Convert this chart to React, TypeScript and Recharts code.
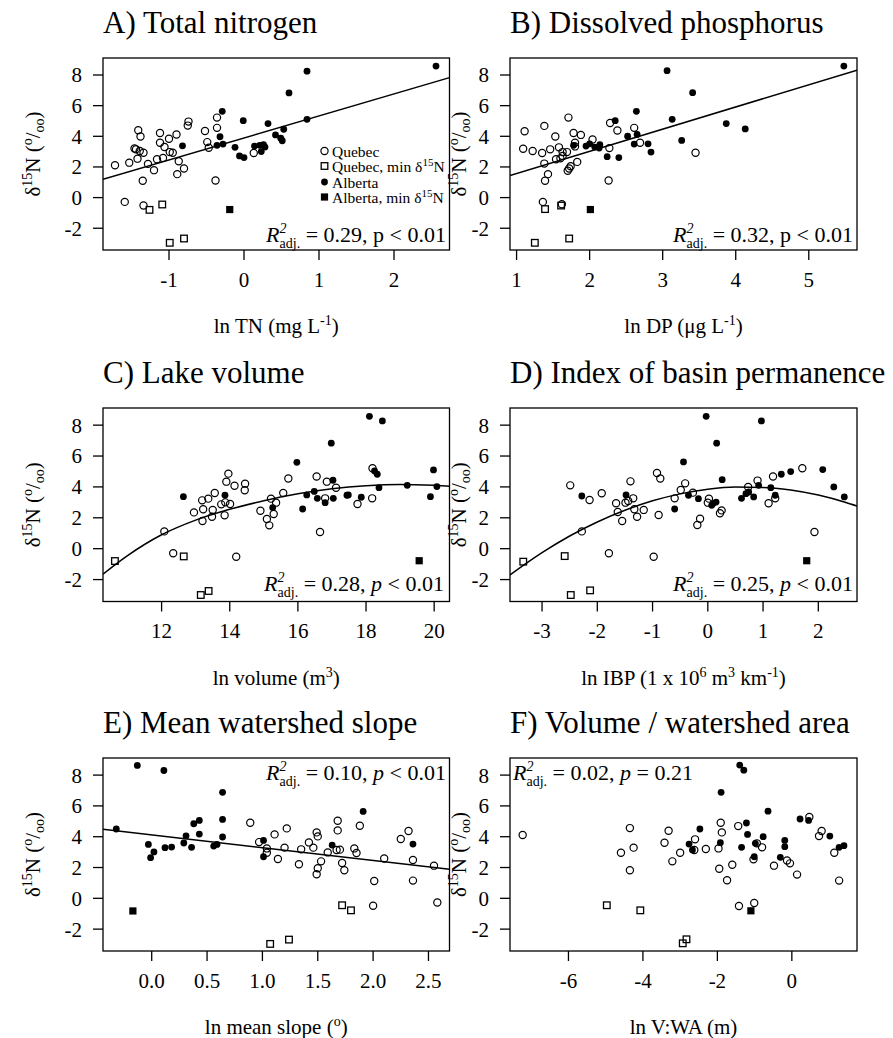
import React from 'react';
import { ScatterChart, Scatter, XAxis, YAxis } from 'recharts';

type Pt = [number, number];

const serif = '"Liberation Serif", "Times New Roman", serif';

// shared y axis (delta 15N, per mil)
const yDomain = [-3.42, 9.11];
const yTicks = [-2, 0, 2, 4, 6, 8];

// A) total nitrogen, x = ln TN (mg/L)
const tnTicks = [-1, 0, 1, 2];
const tnQuebec: Pt[] = [
  [-1.72, 2.11], [-1.53, 2.28], [-1.59, -0.28], [-1.41, 4.4], [-1.38, 3.99], [-1.46, 3.21], [-1.44, 3.15],
  [-1.42, 2.54], [-1.39, 3.04], [-1.34, 2.93], [-1.35, 1.1], [-1.28, 2.2], [-1.2, 1.79], [-1.34, -0.52],
  [-1.16, 2.5], [-1.12, 4.22], [-1.12, 3.58], [-1.08, 2.59], [-1.06, 3.3], [-1.0, 3.84], [-0.99, 2.97],
  [-0.95, 2.93], [-0.9, 4.12], [-0.87, 2.37], [-0.89, 1.53], [-0.8, 1.9], [-0.74, 4.96], [-0.75, 4.7],
  [-0.52, 4.35], [-0.49, 3.62], [-0.47, 3.25], [-0.36, 5.22], [-0.36, 4.55], [-0.38, 1.12], [0.13, 2.91],
];
const tnQuebecMin: Pt[] = [[-1.26, -0.8], [-1.09, -0.45], [-0.99, -2.95], [-0.8, -2.67]];
const tnAlberta: Pt[] = [
  [-0.82, 3.38], [-0.29, 5.63], [-0.32, 3.97], [-0.36, 3.41], [-0.28, 3.49], [-0.12, 3.28], [-0.06, 2.72],
  [0.0, 2.61], [-0.01, 5.02], [0.14, 3.36], [0.21, 3.41], [0.26, 3.45], [0.23, 3.0], [0.28, 3.3],
  [0.32, 4.83], [0.42, 4.09], [0.49, 3.88], [0.53, 4.46], [0.51, 3.71], [0.6, 6.83], [0.84, 8.25],
  [0.84, 5.11], [2.56, 8.58],
];
const tnAlbertaMin: Pt[] = [[-0.19, -0.78]];
const tnFit: Pt[] = [[-1.88, 1.19], [2.74, 7.83]];

// B) dissolved phosphorus, x = ln DP (ug/L)
const dpTicks = [1, 2, 3, 4, 5];
const dpQuebec: Pt[] = [
  [1.11, 4.33], [1.09, 3.19], [1.22, 3.04], [1.35, 2.91], [1.38, 4.68], [1.53, 3.99], [1.46, 3.15],
  [1.58, 3.28], [1.63, 2.97], [1.69, 2.97], [1.71, 5.22], [1.78, 4.22], [1.88, 4.09], [1.8, 3.58],
  [1.8, 3.34], [1.54, 2.5], [1.6, 2.56], [1.63, 2.72], [1.38, 2.22], [1.43, 1.53], [1.39, 1.1],
  [1.7, 1.75], [1.72, 1.9], [1.74, 2.05], [1.83, 2.33], [2.04, 3.79], [2.28, 4.87], [2.38, 4.38],
  [2.27, 3.23], [2.26, 1.12], [2.61, 4.55], [2.69, 3.58], [3.45, 2.93], [1.36, -0.28], [1.62, -0.43],
];
const dpQuebecMin: Pt[] = [[1.39, -0.75], [1.61, -0.52], [1.25, -2.95], [1.72, -2.67]];
const dpAlberta: Pt[] = [
  [1.78, 3.41], [1.95, 3.36], [2.0, 3.51], [2.07, 3.3], [2.14, 3.45], [2.13, 3.23], [2.35, 5.02],
  [2.24, 2.67], [2.4, 2.61], [2.52, 4.01], [2.65, 4.12], [2.64, 5.63], [2.61, 3.49], [2.8, 3.51],
  [2.84, 2.97], [3.06, 8.28], [3.13, 5.11], [3.26, 3.73], [3.41, 6.85], [3.87, 4.83], [4.13, 4.48],
  [5.48, 8.58],
];
const dpAlbertaMin: Pt[] = [[2.01, -0.78]];
const dpFit: Pt[] = [[0.91, 1.44], [5.66, 8.32]];

// C) lake volume, x = ln volume (m3)
const volTicks = [12, 14, 16, 18, 20];
const volQuebec: Pt[] = [
  [12.08, 1.12], [12.34, -0.3], [12.95, 2.35], [13.2, 1.79], [13.22, 2.55], [13.19, 3.13], [13.37, 3.24],
  [13.48, 2.07], [13.5, 2.51], [13.56, 3.61], [13.75, 2.87], [13.85, 2.16], [13.87, 3.0], [14.01, 2.89],
  [13.9, 4.34], [13.96, 4.86], [14.14, 4.08], [14.45, 4.21], [14.44, 3.78], [14.19, -0.52], [14.9, 2.46],
  [15.09, 1.92], [15.16, 1.51], [15.21, 3.24], [15.29, 2.25], [15.36, 2.98], [15.57, 3.61], [15.72, 4.54],
  [16.55, 4.67], [16.85, 4.34], [17.12, 3.95], [16.8, 3.26], [16.65, 1.08], [17.75, 2.89], [18.19, 5.21],
  [18.18, 3.26],
];
const volQuebecMin: Pt[] = [[10.63, -0.8], [12.65, -0.5], [13.15, -3.0], [13.38, -2.74]];
const volAlberta: Pt[] = [
  [12.64, 3.37], [13.86, 3.46], [15.26, 2.66], [15.97, 5.59], [16.14, 2.57], [16.26, 3.48], [16.48, 3.71],
  [16.57, 3.26], [16.8, 2.98], [17.03, 4.43], [17.04, 3.26], [16.98, 6.83], [17.44, 3.46], [17.48, 3.48],
  [17.86, 3.33], [18.1, 8.57], [18.48, 8.27], [18.25, 5.03], [18.33, 4.82], [18.38, 3.95], [19.21, 4.1],
  [19.98, 5.1], [19.89, 3.37], [20.08, 4.02],
];
const volAlbertaMin: Pt[] = [[19.56, -0.78]];
const volFit: Pt[] = [
  [10.28, -1.65], [11, -0.45], [12, 0.9], [13, 1.85], [14, 2.55], [15, 3.1], [16, 3.55],
  [17, 3.88], [18, 4.08], [19, 4.16], [20, 4.1], [20.45, 4.05],
];

// D) index of basin permanence, x = ln IBP
const ibpTicks = [-3, -2, -1, 0, 1, 2];
const ibpQuebec: Pt[] = [
  [-2.49, 4.1], [-2.14, 3.15], [-1.92, 3.59], [-2.28, 1.12], [-1.79, -0.3], [-1.66, 2.94], [-1.63, 2.38],
  [-1.55, 1.79], [-1.49, 2.98], [-1.44, 3.09], [-1.4, 4.36], [-1.35, 3.26], [-1.33, 2.55], [-1.28, 2.07],
  [-1.16, 2.51], [-0.98, -0.52], [-0.92, 4.9], [-0.86, 4.54], [-0.89, 2.18], [-0.6, 3.26], [-0.49, 3.8],
  [-0.41, 4.23], [-0.27, 3.63], [-0.19, 1.53], [-0.14, 1.94], [0.02, 3.24], [0.0, 2.98], [0.22, 2.29],
  [0.25, 2.48], [0.73, 4.0], [0.9, 4.41], [1.1, 2.94], [1.18, 4.67], [1.22, 3.26], [1.71, 5.21], [1.93, 1.08],
];
const ibpQuebecMin: Pt[] = [[-3.34, -0.84], [-2.59, -0.48], [-2.48, -3.0], [-2.13, -2.7]];
const ibpAlberta: Pt[] = [
  [-2.28, 3.41], [-1.48, 3.48], [-0.6, 2.57], [-0.44, 5.62], [-0.35, 3.46], [-0.17, 3.24], [-0.03, 8.57],
  [0.16, 6.83], [0.26, 4.47], [0.07, 2.81], [0.1, 2.94], [0.15, 3.02], [0.61, 3.26], [0.69, 3.56],
  [0.74, 3.67], [0.83, 3.35], [0.92, 4.1], [0.97, 8.27], [1.14, 3.95], [1.22, 3.46], [1.33, 4.82],
  [1.5, 4.99], [2.08, 5.12], [2.28, 4.0], [2.47, 3.35],
];
const ibpAlbertaMin: Pt[] = [[1.79, -0.78]];
const ibpFit: Pt[] = [
  [-3.58, -1.7], [-3, -0.26], [-2.5, 0.82], [-2, 1.73], [-1.5, 2.49], [-1, 3.1], [-0.5, 3.55],
  [0, 3.85], [0.5, 3.99], [1, 3.97], [1.5, 3.8], [2, 3.47], [2.5, 2.99], [2.7, 2.76],
];

// E) mean watershed slope, x = ln mean slope (deg)
const slopeTicks = [0, 0.5, 1, 1.5, 2, 2.5];
const slopeQuebec: Pt[] = [
  [0.89, 4.91], [0.97, 3.65], [1.04, 3.24], [1.04, 2.96], [1.11, 4.15], [1.14, 2.55], [1.2, 3.29],
  [1.22, 4.54], [1.33, 2.21], [1.35, 3.18], [1.42, 3.63], [1.46, 3.29], [1.49, 4.28], [1.5, 4.02],
  [1.53, 2.4], [1.49, 1.56], [1.5, 1.95], [1.59, 2.98], [1.67, 3.14], [1.68, 4.41], [1.68, 5.04],
  [1.7, 3.16], [1.72, 2.29], [1.74, 1.82], [1.83, 3.24], [1.85, 2.94], [1.88, 4.71], [2.01, 1.12],
  [2.1, 2.59], [2.0, -0.48], [2.25, 3.85], [2.32, 4.37], [2.36, 2.49], [2.36, 1.15], [2.55, 2.12],
  [2.58, -0.27],
];
const slopeQuebecMin: Pt[] = [[1.72, -0.45], [1.8, -0.78], [1.07, -2.96], [1.24, -2.68]];
const slopeAlberta: Pt[] = [
  [-0.32, 4.5], [-0.13, 8.63], [0.11, 8.3], [-0.03, 3.5], [-0.01, 2.64], [0.02, 3.01], [0.12, 3.29],
  [0.18, 3.33], [0.29, 3.59], [0.31, 4.06], [0.36, 3.31], [0.38, 4.84], [0.43, 5.06], [0.43, 4.17],
  [0.56, 3.39], [0.59, 3.5], [0.64, 6.88], [0.64, 5.12], [0.64, 3.98], [1.01, 3.76], [1.01, 2.7],
  [1.63, 3.46], [1.91, 5.64], [2.36, 3.52],
];
const slopeAlbertaMin: Pt[] = [[-0.17, -0.82]];
const slopeFit: Pt[] = [[-0.44, 4.48], [2.69, 1.88]];

// F) volume / watershed area, x = ln V:WA (m)
const vwaTicks = [-6, -4, -2, 0];
const vwaQuebec: Pt[] = [
  [-7.23, 4.11], [-4.35, 4.56], [-4.25, 3.29], [-4.59, 2.96], [-4.35, 1.82], [-3.31, 4.39], [-3.42, 3.61],
  [-3.21, 2.4], [-3.0, 2.96], [-2.6, 3.83], [-2.62, 3.14], [-2.31, 3.2], [-1.97, 3.24], [-1.91, 4.91],
  [-1.88, 4.28], [-1.95, 1.92], [-1.74, 1.17], [-1.6, 2.18], [-1.44, 4.69], [-1.03, 2.53], [-0.94, 3.57],
  [-0.8, 3.31], [-0.48, 2.12], [-0.13, 2.46], [-0.05, 2.27], [0.14, 1.54], [0.47, 5.28], [0.8, 4.37],
  [0.73, 4.04], [1.14, 2.96], [1.27, 1.15], [-1.42, -0.5], [-1.01, -0.3],
];
const vwaQuebecMin: Pt[] = [[-4.97, -0.45], [-4.07, -0.78], [-2.93, -2.92], [-2.83, -2.66]];
const vwaAlberta: Pt[] = [
  [-1.4, 8.65], [-1.29, 8.32], [-1.9, 6.88], [-2.47, 4.5], [-2.76, 3.52], [-2.67, 3.14], [-1.92, 3.61],
  [-1.35, 3.31], [-1.22, 4.89], [-1.19, 4.15], [-1.01, 2.7], [-0.98, 3.57], [-0.77, 4.0], [-0.64, 5.66],
  [-0.31, 2.66], [-0.19, 3.76], [-0.19, 3.35], [0.22, 5.15], [0.45, 5.06], [1.02, 4.04], [1.27, 3.31],
  [1.4, 3.42],
];
const vwaAlbertaMin: Pt[] = [[-1.1, -0.81]];

const titles = [
  'A) Total nitrogen',
  'B) Dissolved phosphorus',
  'C) Lake volume',
  'D) Index of basin permanence',
  'E) Mean watershed slope',
  'F) Volume / watershed area',
];

const toXY = (pts: Pt[]) => pts.map(([x, y]) => ({ x, y }));

const openCircle = (p: any) => <circle cx={p.cx} cy={p.cy} r={3.6} fill="none" stroke="#000" strokeWidth={1.2} />;
const dot = (p: any) => <circle cx={p.cx} cy={p.cy} r={3.4} fill="#000" />;
const openSquare = (p: any) => (
  <rect x={p.cx - 3.3} y={p.cy - 3.3} width={6.6} height={6.6} fill="none" stroke="#000" strokeWidth={1.3} />
);
const block = (p: any) => <rect x={p.cx - 3.6} y={p.cy - 3.6} width={7.2} height={7.2} fill="#000" />;
const noDot = () => <g />;

interface PanelDef {
  box: [number, number, number, number]; // left, top, right, bottom of the plot frame
  yTitleX: number;
  xDomain: [number, number];
  xTicks: number[];
  decimals?: number;
  quebec: Pt[];
  quebecMin: Pt[];
  alberta: Pt[];
  albertaMin: Pt[];
  fit?: Pt[];
}

const panels: PanelDef[] = [
  { box: [103, 58, 449.5, 250], yTitleX: 40, xDomain: [-1.88, 2.74], xTicks: tnTicks, quebec: tnQuebec, quebecMin: tnQuebecMin, alberta: tnAlberta, albertaMin: tnAlbertaMin, fit: tnFit },
  { box: [510, 58, 857, 250], yTitleX: 466, xDomain: [0.91, 5.66], xTicks: dpTicks, quebec: dpQuebec, quebecMin: dpQuebecMin, alberta: dpAlberta, albertaMin: dpAlbertaMin, fit: dpFit },
  { box: [103, 408, 449.5, 601.5], yTitleX: 40, xDomain: [10.28, 20.45], xTicks: volTicks, quebec: volQuebec, quebecMin: volQuebecMin, alberta: volAlberta, albertaMin: volAlbertaMin, fit: volFit },
  { box: [510, 408, 857, 601.5], yTitleX: 466, xDomain: [-3.58, 2.7], xTicks: ibpTicks, quebec: ibpQuebec, quebecMin: ibpQuebecMin, alberta: ibpAlberta, albertaMin: ibpAlbertaMin, fit: ibpFit },
  { box: [103, 758, 449.5, 951], yTitleX: 40, xDomain: [-0.44, 2.69], xTicks: slopeTicks, decimals: 1, quebec: slopeQuebec, quebecMin: slopeQuebecMin, alberta: slopeAlberta, albertaMin: slopeAlbertaMin, fit: slopeFit },
  { box: [510, 758, 857, 951], yTitleX: 466, xDomain: [-7.57, 1.75], xTicks: vwaTicks, quebec: vwaQuebec, quebecMin: vwaQuebecMin, alberta: vwaAlberta, albertaMin: vwaAlbertaMin },
];

const tickStyle = { fill: '#000', fontSize: 21, fontFamily: serif };

function Panel({ def }: { def: PanelDef }) {
  const [l, t, r, b] = def.box;
  const yAxisW = 103;
  const width = r - (l - yAxisW) + 20;
  const height = 10 + (b - t) + 52;
  return (
    <div style={{ position: 'absolute', left: l - yAxisW, top: t - 10 }}>
      <ScatterChart width={width} height={height} margin={{ top: 10, right: 20, bottom: 0, left: 0 }} style={{ fontFamily: serif }}>
        <XAxis
          type="number"
          dataKey="x"
          domain={def.xDomain}
          ticks={def.xTicks}
          interval={0}
          allowDataOverflow
          axisLine={false}
          tickLine={{ stroke: '#000', strokeWidth: 1.3 }}
          tickSize={10}
          tickMargin={12}
          height={52}
          tick={tickStyle}
          tickFormatter={(v: number) => (def.decimals ? v.toFixed(def.decimals) : String(v))}
        />
        <YAxis
          type="number"
          dataKey="y"
          domain={yDomain}
          ticks={yTicks}
          interval={0}
          allowDataOverflow
          axisLine={false}
          tickLine={{ stroke: '#000', strokeWidth: 1.3 }}
          tickSize={10}
          tickMargin={11}
          width={yAxisW}
          tick={tickStyle}
        />
        <Scatter data={toXY(def.quebec)} shape={openCircle} isAnimationActive={false} />
        <Scatter data={toXY(def.quebecMin)} shape={openSquare} isAnimationActive={false} />
        <Scatter data={toXY(def.alberta)} shape={dot} isAnimationActive={false} />
        <Scatter data={toXY(def.albertaMin)} shape={block} isAnimationActive={false} />
        {def.fit && (
          <Scatter
            data={toXY(def.fit)}
            shape={noDot}
            line={{ stroke: '#000', strokeWidth: 1.5 }}
            lineJointType="monotoneX"
            isAnimationActive={false}
          />
        )}
      </ScatterChart>
    </div>
  );
}

// superscript helper: raises text then drops back to the baseline
function Sup({ s, after }: { s: string; after: string }) {
  return (
    <>
      <tspan dy={-8} fontSize={14}>{s}</tspan>
      <tspan dy={8}>{after}</tspan>
    </>
  );
}

function XTitle({ i, x, y }: { i: number; x: number; y: number }) {
  let content: React.ReactNode = null;
  if (i === 0) content = <>ln TN (mg L<Sup s="-1" after=")" /></>;
  if (i === 1) content = <>ln DP (μg L<Sup s="-1" after=")" /></>;
  if (i === 2) content = <>ln volume (m<Sup s="3" after=")" /></>;
  if (i === 3)
    content = (
      <>
        ln IBP (1 x 10<Sup s="6" after=" m" />
        <Sup s="3" after=" km" />
        <Sup s="-1" after=")" />
      </>
    );
  if (i === 4) content = <>ln mean slope (<Sup s="o" after=")" /></>;
  if (i === 5) content = <>ln V:WA (m)</>;
  return (
    <text x={x} y={y} textAnchor="middle" fontSize={21} style={{ whiteSpace: 'pre' }}>
      {content}
    </text>
  );
}

function YTitle({ x, y }: { x: number; y: number }) {
  return (
    <text transform={`translate(${x},${y}) rotate(-90)`} textAnchor="middle" fontSize={21} style={{ whiteSpace: 'pre' }}>
      δ<tspan dy={-8} fontSize={14}>15</tspan>
      <tspan dy={8}>N (</tspan>
      <tspan dy={-8} fontSize={14}>o</tspan>
      <tspan dy={8}>/</tspan>
      <tspan dy={4} fontSize={14}>oo</tspan>
      <tspan dy={-4}>)</tspan>
    </text>
  );
}

interface StatDef { x: number; y: number; anchor: 'start' | 'end'; r2: string; rel: string; p: string; italicP: boolean }
const stats: StatDef[] = [
  { x: 446, y: 242, anchor: 'end', r2: '0.29', rel: '<', p: '0.01', italicP: false },
  { x: 853, y: 242, anchor: 'end', r2: '0.32', rel: '<', p: '0.01', italicP: false },
  { x: 444, y: 591, anchor: 'end', r2: '0.28', rel: '<', p: '0.01', italicP: true },
  { x: 853, y: 591, anchor: 'end', r2: '0.25', rel: '<', p: '0.01', italicP: true },
  { x: 446, y: 780, anchor: 'end', r2: '0.10', rel: '<', p: '0.01', italicP: true },
  { x: 513, y: 780, anchor: 'start', r2: '0.02', rel: '=', p: '0.21', italicP: true },
];

function Stat({ s }: { s: StatDef }) {
  return (
    <text x={s.x} y={s.y} textAnchor={s.anchor} fontSize={22} style={{ whiteSpace: 'pre' }}>
      <tspan fontStyle="italic">R</tspan>
      <tspan dy={-9} fontSize={14} fontStyle="italic">2</tspan>
      <tspan dx={-7} dy={15} fontSize={14}>adj.</tspan>
      <tspan dy={-6}>{` = ${s.r2}, `}</tspan>
      <tspan fontStyle={s.italicP ? 'italic' : 'normal'}>p</tspan>
      <tspan>{` ${s.rel} ${s.p}`}</tspan>
    </text>
  );
}

function Legend() {
  const x = 324.5;
  const tx = 332;
  const rows = [151, 166, 182, 197];
  return (
    <g fontSize={15.5} style={{ whiteSpace: 'pre' }}>
      <circle cx={x} cy={rows[0]} r={3.6} fill="none" stroke="#000" strokeWidth={1.2} />
      <text x={tx} y={rows[0] + 5.5}>Quebec</text>
      <rect x={x - 3.3} y={rows[1] - 3.3} width={6.6} height={6.6} fill="none" stroke="#000" strokeWidth={1.3} />
      <text x={tx} y={rows[1] + 5.5}>
        Quebec, min δ<tspan dy={-6} fontSize={11}>15</tspan>
        <tspan dy={6}>N</tspan>
      </text>
      <circle cx={x} cy={rows[2]} r={3.4} fill="#000" />
      <text x={tx} y={rows[2] + 5.5}>Alberta</text>
      <rect x={x - 3.6} y={rows[3] - 3.6} width={7.2} height={7.2} fill="#000" />
      <text x={tx} y={rows[3] + 5.5}>
        Alberta, min δ<tspan dy={-6} fontSize={11}>15</tspan>
        <tspan dy={6}>N</tspan>
      </text>
    </g>
  );
}

export default function App() {
  return (
    <div style={{ position: 'absolute', left: 0, top: 0, width: 893, height: 1038, background: '#fff', fontFamily: serif, overflow: 'hidden' }}>
      {panels.map((p, i) => (
        <Panel key={i} def={p} />
      ))}
      <svg width={893} height={1038} style={{ position: 'absolute', left: 0, top: 0, pointerEvents: 'none', fontFamily: serif }} fill="#000">
        {panels.map((p, i) => {
          const [l, t, r, b] = p.box;
          return (
            <g key={i}>
              <rect x={l} y={t} width={r - l} height={b - t} fill="none" stroke="#000" strokeWidth={1.3} />
              <text x={l} y={t - 25} fontSize={31} style={{ whiteSpace: 'pre' }}>{titles[i]}</text>
              <XTitle i={i} x={(l + r) / 2} y={b + 83} />
              <YTitle x={p.yTitleX} y={(t + b) / 2} />
              <Stat s={stats[i]} />
            </g>
          );
        })}
        <Legend />
      </svg>
    </div>
  );
}
